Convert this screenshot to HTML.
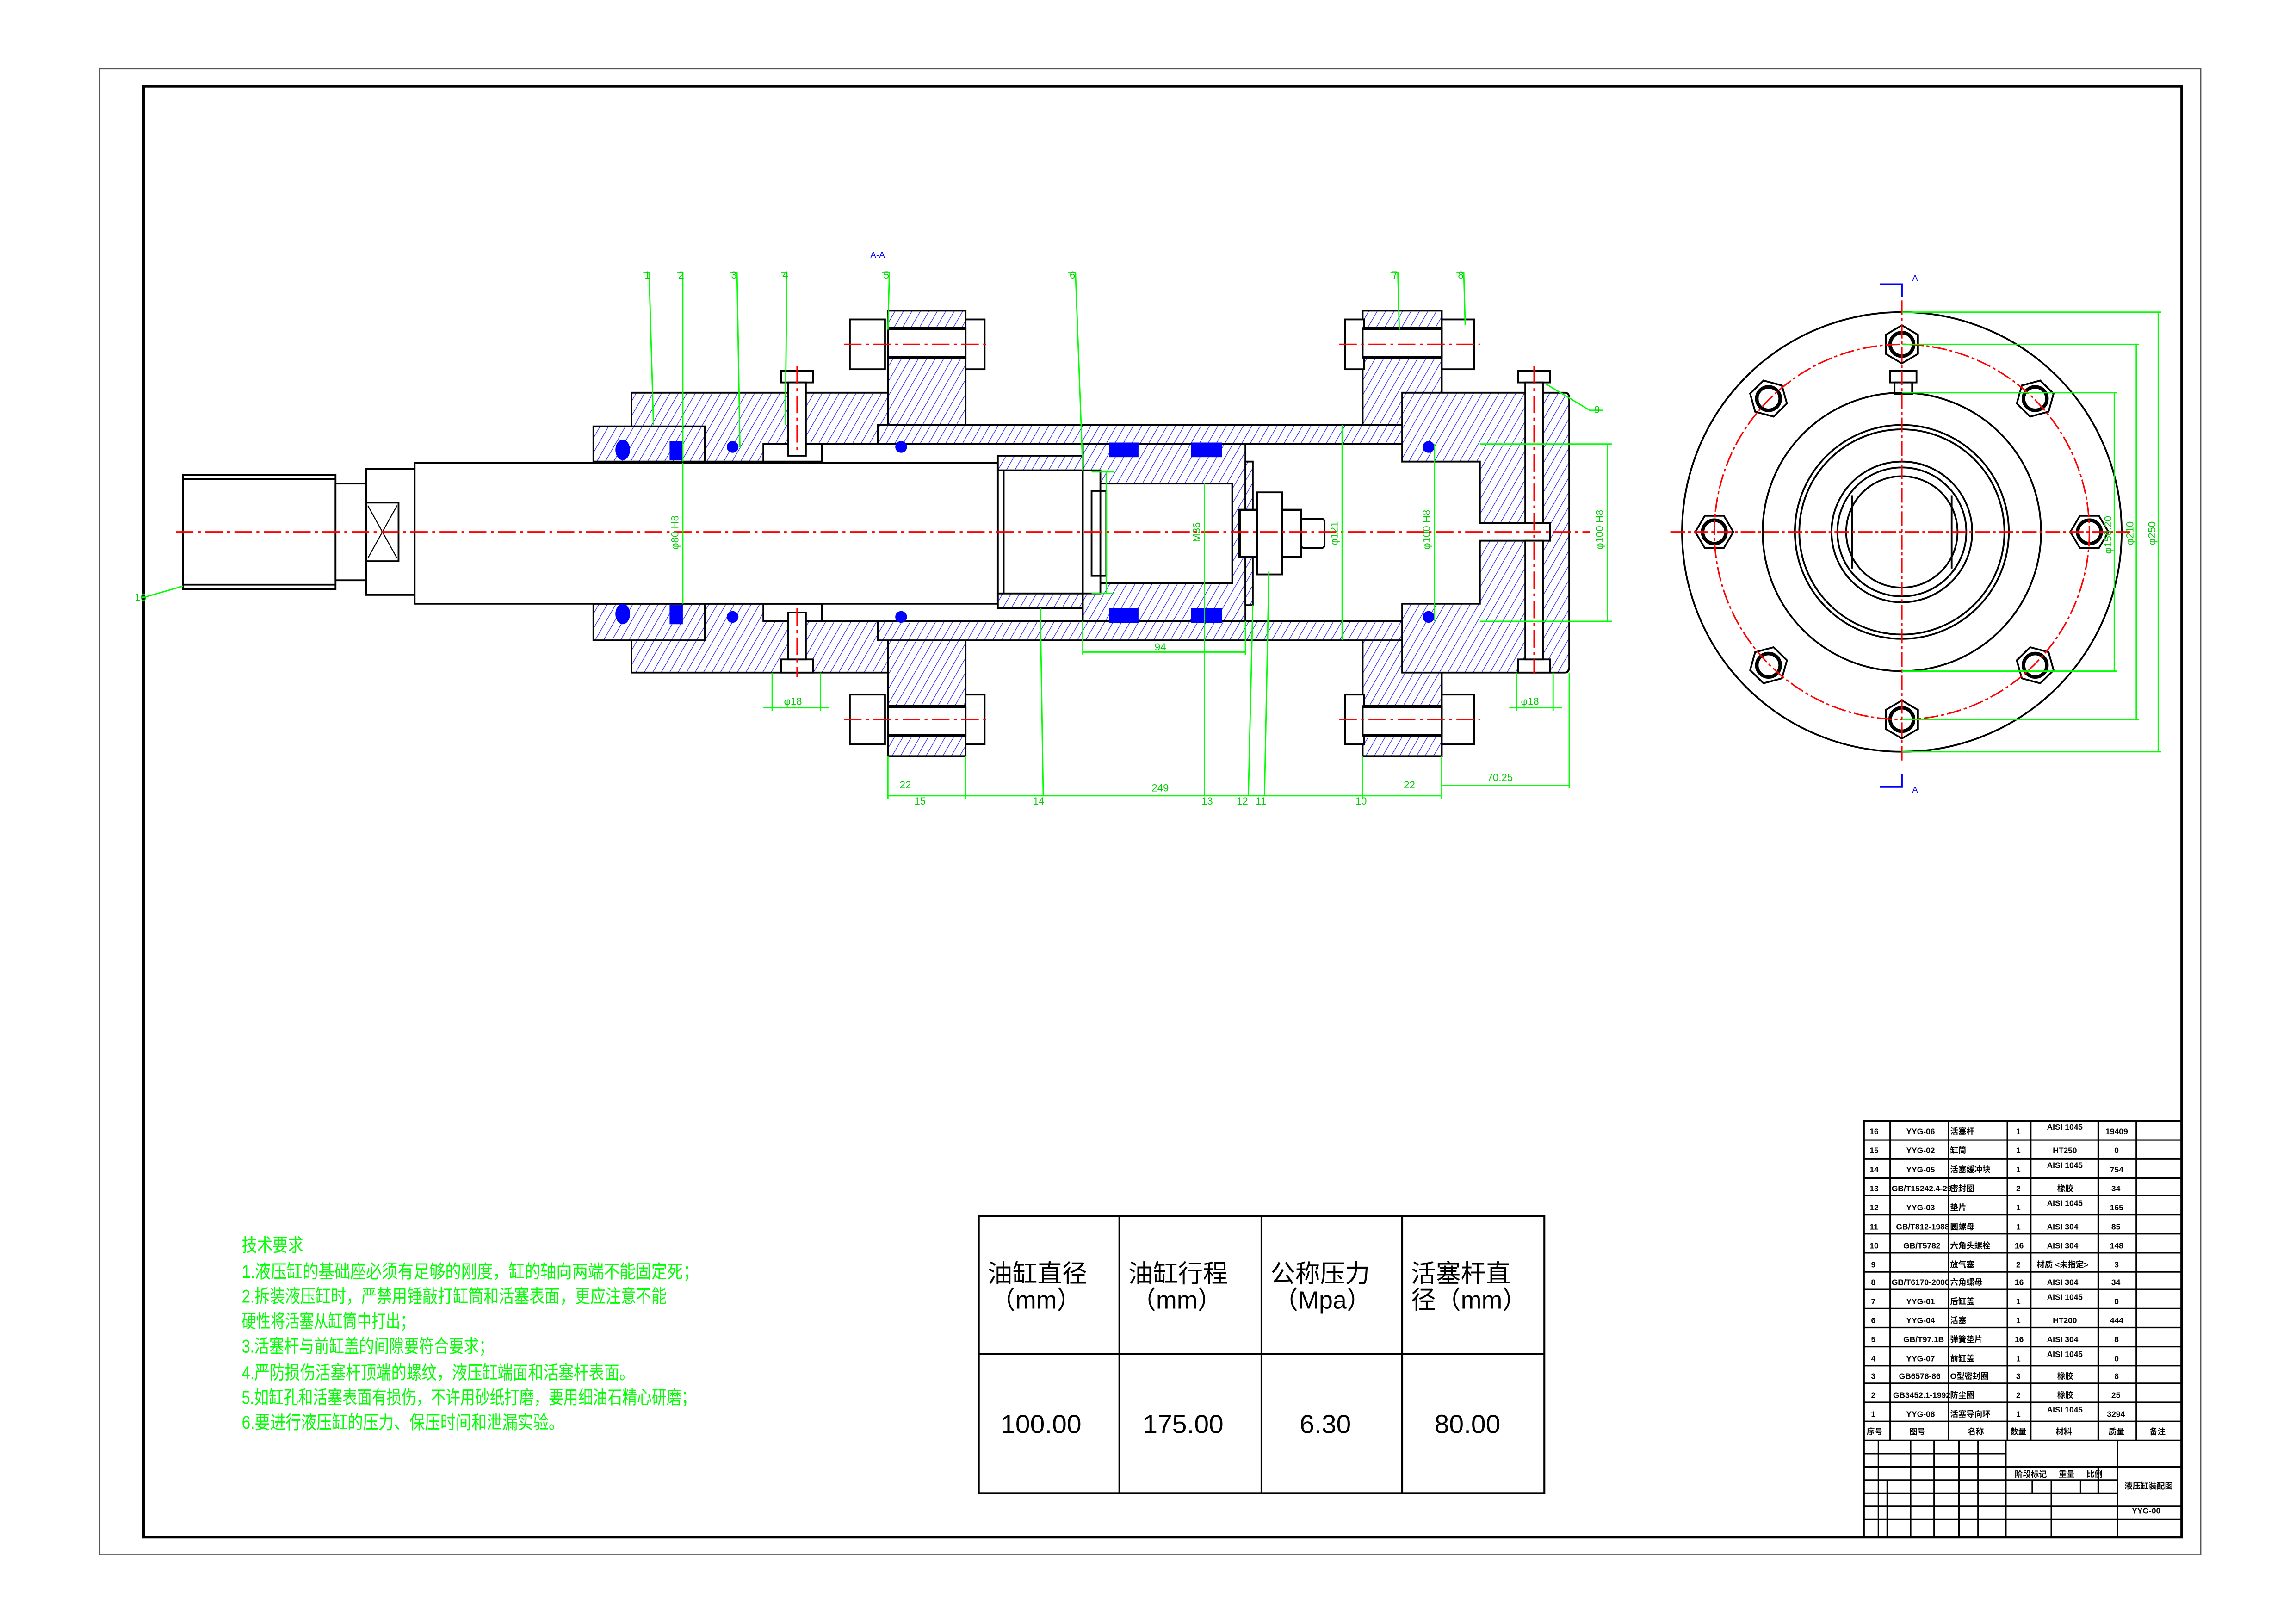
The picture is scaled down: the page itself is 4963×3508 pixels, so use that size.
<!DOCTYPE html>
<html><head><meta charset="utf-8"><style>html,body{margin:0;padding:0;background:#fff}svg{display:block}</style></head><body>
<svg xmlns="http://www.w3.org/2000/svg" width="4963" height="3508" viewBox="0 0 1567 1107.6" preserveAspectRatio="none" font-family="Liberation Sans, Noto Sans CJK SC, sans-serif">
<defs>
<pattern id="h" width="5" height="5" patternUnits="userSpaceOnUse" patternTransform="rotate(30)">
<rect width="5" height="5" fill="#fff"/><line x1="0" y1="0" x2="0" y2="5" stroke="#1a1aff" stroke-width="0.8"/></pattern>
</defs>
<rect width="1567" height="1108" fill="#fff"/>
<rect x="68" y="47" width="1434" height="1014" fill="none" stroke="#555" stroke-width="0.8"/>
<rect x="98" y="59" width="1391" height="990" fill="none" stroke="#000" stroke-width="1.8"/>

<g stroke="#000" stroke-width="1.2">
<rect x="125" y="324" width="104" height="78" fill="#fff"/>
<line x1="125" y1="327" x2="229" y2="327"/><line x1="125" y1="399" x2="229" y2="399"/>
<rect x="229" y="330" width="21" height="66" fill="#fff"/>
<rect x="250" y="320" width="33" height="86" fill="#fff"/>
<rect x="250" y="343" width="22" height="40" fill="none"/>
<path d="M251 345 L271 381 M271 345 L251 381" stroke-width="0.7"/>
<path d="M431 268 H606 V290 H599 V303 H522 V315 H431 Z" fill="url(#h)"/>
<path d="M431 459 H606 V437 H599 V424 H522 V412 H431 Z" fill="url(#h)"/>
<path d="M405 291 H481 V315 H405 Z" fill="url(#h)"/>
<path d="M405 412 H481 V437 H405 Z" fill="url(#h)"/>
<rect x="521" y="303" width="40" height="12" fill="#fff"/>
<rect x="521" y="412" width="40" height="12" fill="#fff"/>
<rect x="606" y="212" width="53" height="78" fill="url(#h)"/>
<rect x="606" y="437" width="53" height="79" fill="url(#h)"/>
<rect x="930" y="212" width="54" height="78" fill="url(#h)"/>
<rect x="930" y="437" width="54" height="79" fill="url(#h)"/>
<path d="M599 290 H991 V303 H599 Z" fill="url(#h)"/>
<path d="M599 424 H991 V437 H599 Z" fill="url(#h)"/>
<path d="M957 268 H1068 Q1071 268 1071 272 V455 Q1071 459 1068 459 H957 V412 H1010 V369 H1058 V357 H1010 V315 H957 Z" fill="url(#h)"/>
<rect x="283" y="316" width="398" height="96" fill="#fff"/>
<rect x="681" y="311" width="58" height="10" fill="url(#h)"/>
<rect x="681" y="405" width="58" height="10" fill="url(#h)"/>
<rect x="681" y="321" width="58" height="84" fill="#fff"/>
<line x1="685" y1="321" x2="685" y2="405"/>
<path d="M739 303 H850 V424 H739 Z" fill="url(#h)"/>
<rect x="751" y="330" width="90" height="68" fill="#fff"/>
<rect x="739" y="321" width="12" height="84" fill="#fff"/>
<rect x="745" y="335" width="10" height="58" fill="none"/>
<rect x="850" y="315" width="5" height="98" fill="url(#h)"/>
<rect x="846" y="348" width="42" height="32" fill="#fff" stroke-width="1.6"/>
<rect x="858" y="336" width="17" height="56" fill="#fff"/>
<rect x="888" y="354" width="16" height="20" fill="#fff" rx="2"/>
<g fill="#fff">
<rect x="580" y="218" width="24" height="34"/><rect x="659" y="218" width="13" height="34"/>
<rect x="580" y="474" width="24" height="34"/><rect x="659" y="474" width="13" height="34"/>
<rect x="918" y="218" width="13" height="34"/><rect x="984" y="218" width="22" height="34"/>
<rect x="918" y="474" width="13" height="34"/><rect x="984" y="474" width="22" height="34"/>
<rect x="606" y="224" width="53" height="20"/><rect x="606" y="482" width="53" height="20"/>
<rect x="930" y="224" width="54" height="20"/><rect x="930" y="482" width="54" height="20"/>
</g>
<g stroke-width="2.2">
<line x1="606" y1="224" x2="659" y2="224"/><line x1="606" y1="244" x2="659" y2="244"/>
<line x1="606" y1="482" x2="659" y2="482"/><line x1="606" y1="502" x2="659" y2="502"/>
<line x1="930" y1="224" x2="984" y2="224"/><line x1="930" y1="244" x2="984" y2="244"/>
<line x1="930" y1="482" x2="984" y2="482"/><line x1="930" y1="502" x2="984" y2="502"/>
</g>
<rect x="533" y="253" width="22" height="8" fill="#fff"/><rect x="538" y="261" width="12" height="50" fill="#fff"/>
<rect x="533" y="450" width="22" height="9" fill="#fff"/><rect x="538" y="418" width="12" height="32" fill="#fff"/>
<rect x="1036" y="253" width="22" height="8" fill="#fff"/><rect x="1041" y="261" width="12" height="96" fill="#fff"/>
<rect x="1036" y="450" width="22" height="9" fill="#fff"/><rect x="1041" y="369" width="12" height="81" fill="#fff"/>
</g>
<g fill="#0000ff">
<ellipse cx="425" cy="307" rx="5" ry="7"/><ellipse cx="425" cy="419" rx="5" ry="7"/>
<rect x="457" y="301" width="9" height="13"/><rect x="457" y="413" width="9" height="13"/>
<circle cx="500" cy="305" r="4"/><circle cx="500" cy="421" r="4"/>
<circle cx="615" cy="305" r="4"/><circle cx="615" cy="421" r="4"/>
<circle cx="975" cy="305" r="4"/><circle cx="975" cy="421" r="4"/>
<rect x="757" y="302" width="20" height="10"/><rect x="813" y="302" width="21" height="10"/>
<rect x="757" y="415" width="20" height="10"/><rect x="813" y="415" width="21" height="10"/>
</g>
<g stroke="#f00" stroke-width="1" stroke-dasharray="12,3,2,3" fill="none">
<line x1="120" y1="363" x2="1085" y2="363"/>
<line x1="576" y1="235" x2="676" y2="235"/><line x1="576" y1="491" x2="676" y2="491"/>
<line x1="914" y1="235" x2="1010" y2="235"/><line x1="914" y1="491" x2="1010" y2="491"/>
<line x1="544" y1="250" x2="544" y2="310"/><line x1="544" y1="415" x2="544" y2="462"/>
<line x1="1047" y1="250" x2="1047" y2="460"/>
</g>
<g stroke="#0f0" stroke-width="0.9" fill="none">
<polyline points="439,186 443,186 446,290"/><polyline points="462,186 466,186 466,315"/>
<polyline points="498,186 503,186 505,305"/><polyline points="533,186 537,186 536,290"/>
<polyline points="602,186 607,186 606,225"/><polyline points="729,186 734,186 739,321"/>
<polyline points="949,186 954,186 955,225"/><polyline points="994,186 999,186 1000,222"/>
<polyline points="1094,280 1085,280 1055,262"/>
<polyline points="97,408 125,400"/>
<line x1="606" y1="516" x2="606" y2="545"/><line x1="984" y1="516" x2="984" y2="545"/>
<line x1="606" y1="543" x2="984" y2="543"/>
<line x1="659" y1="516" x2="659" y2="545"/><line x1="930" y1="516" x2="930" y2="545"/>
<line x1="1071" y1="459" x2="1071" y2="538"/><line x1="984" y1="536" x2="1071" y2="536"/>
<line x1="739" y1="424" x2="739" y2="447"/><line x1="850" y1="424" x2="850" y2="447"/><line x1="739" y1="445" x2="850" y2="445"/>
<line x1="527" y1="459" x2="527" y2="485"/><line x1="560" y1="459" x2="560" y2="485"/><line x1="521" y1="483" x2="566" y2="483"/>
<line x1="1035" y1="459" x2="1035" y2="485"/><line x1="1060" y1="459" x2="1060" y2="485"/><line x1="1030" y1="483" x2="1066" y2="483"/>
<line x1="466" y1="316" x2="466" y2="412"/><line x1="916" y1="290" x2="916" y2="437"/>
<line x1="979" y1="303" x2="979" y2="424"/><line x1="822" y1="330" x2="822" y2="543"/>
<line x1="1010" y1="303" x2="1100" y2="303"/><line x1="1010" y1="424" x2="1100" y2="424"/><line x1="1097" y1="303" x2="1097" y2="424"/>
<line x1="710" y1="415" x2="712" y2="543"/><line x1="855" y1="413" x2="852" y2="543"/><line x1="866" y1="390" x2="863" y2="543"/>
<line x1="745" y1="322" x2="760" y2="322"/><line x1="745" y1="405" x2="760" y2="405"/><line x1="755" y1="322" x2="755" y2="405"/>
</g>
<g fill="#0c0" font-size="7">
<text x="440" y="190">1</text><text x="463" y="190">2</text><text x="499" y="190">3</text><text x="534" y="190">4</text>
<text x="603" y="190">5</text><text x="730" y="190">6</text><text x="950" y="190">7</text><text x="995" y="190">8</text>
<text x="1088" y="282">9</text><text x="92" y="410">16</text>
<text x="614" y="538">22</text><text x="786" y="540">249</text><text x="958" y="538">22</text><text x="1015" y="533">70.25</text>
<text x="624" y="549">15</text><text x="705" y="549">14</text><text x="820" y="549">13</text><text x="844" y="549">12</text><text x="857" y="549">11</text><text x="925" y="549">10</text>
<text x="788" y="444">94</text><text x="535" y="481">φ18</text><text x="1038" y="481">φ18</text>
<text transform="translate(463,375) rotate(-90)">φ80 H8</text>
<text transform="translate(913,372) rotate(-90)">φ121</text>
<text transform="translate(976,375) rotate(-90)">φ100 H8</text>
<text transform="translate(1094,375) rotate(-90)">φ100 H8</text>
<text transform="translate(819,370) rotate(-90)">M36</text>
</g>
<text x="594" y="176" fill="#00f" font-size="6">A-A</text>

<g fill="none" stroke="#000" stroke-width="1.2">
<circle cx="1298" cy="363" r="150"/>
<circle cx="1298" cy="363" r="95"/>
<circle cx="1298" cy="363" r="73"/><circle cx="1298" cy="363" r="70"/>
<circle cx="1298" cy="363" r="48"/><circle cx="1298" cy="363" r="44"/><circle cx="1298" cy="363" r="38"/>
<line x1="1264" y1="338" x2="1264" y2="388"/><line x1="1332" y1="338" x2="1332" y2="388"/>
<rect x="1290" y="253" width="18" height="8"/><rect x="1293" y="261" width="12" height="8"/>
</g>
<g stroke="#000" stroke-width="1.2" fill="#fff">
<g transform="translate(1298,235)"><polygon points="13,0 6.5,11 -6.5,11 -13,0 -6.5,-11 6.5,-11" transform="rotate(90)"/><circle r="8" stroke-width="2.4"/></g>
<g transform="translate(1298,491)"><polygon points="13,0 6.5,11 -6.5,11 -13,0 -6.5,-11 6.5,-11" transform="rotate(90)"/><circle r="8" stroke-width="2.4"/></g>
<g transform="translate(1170,363)"><polygon points="13,0 6.5,11 -6.5,11 -13,0 -6.5,-11 6.5,-11"/><circle r="8" stroke-width="2.4"/></g>
<g transform="translate(1426,363)"><polygon points="13,0 6.5,11 -6.5,11 -13,0 -6.5,-11 6.5,-11"/><circle r="8" stroke-width="2.4"/></g>
<g transform="translate(1207,272)"><polygon points="13,0 6.5,11 -6.5,11 -13,0 -6.5,-11 6.5,-11" transform="rotate(15)"/><circle r="8" stroke-width="2.4"/></g>
<g transform="translate(1389,272)"><polygon points="13,0 6.5,11 -6.5,11 -13,0 -6.5,-11 6.5,-11" transform="rotate(-15)"/><circle r="8" stroke-width="2.4"/></g>
<g transform="translate(1207,454)"><polygon points="13,0 6.5,11 -6.5,11 -13,0 -6.5,-11 6.5,-11" transform="rotate(-15)"/><circle r="8" stroke-width="2.4"/></g>
<g transform="translate(1389,454)"><polygon points="13,0 6.5,11 -6.5,11 -13,0 -6.5,-11 6.5,-11" transform="rotate(15)"/><circle r="8" stroke-width="2.4"/></g>
</g>
<g stroke="#f00" stroke-width="1" fill="none" stroke-dasharray="10,2,2,2">
<circle cx="1298" cy="363" r="128"/>
<line x1="1140" y1="363" x2="1455" y2="363"/><line x1="1298" y1="205" x2="1298" y2="520"/>
</g>
<g stroke="#0f0" stroke-width="0.9" fill="none">
<line x1="1298" y1="213" x2="1475" y2="213"/><line x1="1298" y1="513" x2="1475" y2="513"/><line x1="1473" y1="213" x2="1473" y2="513"/>
<line x1="1298" y1="235" x2="1460" y2="235"/><line x1="1298" y1="491" x2="1460" y2="491"/><line x1="1458" y1="235" x2="1458" y2="491"/>
<line x1="1298" y1="268" x2="1445" y2="268"/><line x1="1298" y1="458" x2="1445" y2="458"/><line x1="1443" y1="268" x2="1443" y2="458"/>
</g>
<g fill="#0c0" font-size="7">
<text transform="translate(1441,378) rotate(-90)">φ156.20</text>
<text transform="translate(1456,372) rotate(-90)">φ210</text>
<text transform="translate(1471,372) rotate(-90)">φ250</text>
</g>
<g stroke="#00f" stroke-width="1.2" fill="none">
<polyline points="1283,194 1298,194 1298,203"/><polyline points="1283,537 1298,537 1298,528"/>
</g>
<text x="1305" y="192" fill="#00f" font-size="6">A</text><text x="1305" y="541" fill="#00f" font-size="6">A</text>

<g fill="#0f0" font-size="12.5" font-family="Liberation Sans, Noto Sans CJK SC, sans-serif">
<text x="165" y="854" textLength="42" lengthAdjust="spacingAndGlyphs">技术要求</text>
<text x="165" y="872" textLength="312" lengthAdjust="spacingAndGlyphs">1.液压缸的基础座必须有足够的刚度，缸的轴向两端不能固定死；</text>
<text x="165" y="889" textLength="290" lengthAdjust="spacingAndGlyphs">2.拆装液压缸时，严禁用锤敲打缸筒和活塞表面，更应注意不能</text>
<text x="165" y="906" textLength="118" lengthAdjust="spacingAndGlyphs">硬性将活塞从缸筒中打出；</text>
<text x="165" y="923" textLength="172" lengthAdjust="spacingAndGlyphs">3.活塞杆与前缸盖的间隙要符合要求；</text>
<text x="165" y="941" textLength="268" lengthAdjust="spacingAndGlyphs">4.严防损伤活塞杆顶端的螺纹，液压缸端面和活塞杆表面。</text>
<text x="165" y="958" textLength="310" lengthAdjust="spacingAndGlyphs">5.如缸孔和活塞表面有损伤，不许用砂纸打磨，要用细油石精心研磨；</text>
<text x="165" y="975" textLength="220" lengthAdjust="spacingAndGlyphs">6.要进行液压缸的压力、保压时间和泄漏实验。</text>
</g>

<g stroke="#000" stroke-width="1.3" fill="none">
<rect x="668" y="830" width="386" height="189"/>
<line x1="764" y1="830" x2="764" y2="1019"/><line x1="861" y1="830" x2="861" y2="1019"/><line x1="957" y1="830" x2="957" y2="1019"/>
<line x1="668" y1="924" x2="1054" y2="924"/>
</g>
<g fill="#000" font-size="17">
<text x="674" y="875">油缸直径</text><text x="676" y="893">（mm）</text>
<text x="770" y="875">油缸行程</text><text x="772" y="893">（mm）</text>
<text x="867" y="875">公称压力</text><text x="869" y="893">（Mpa）</text>
<text x="963" y="875">活塞杆直</text><text x="963" y="893">径（mm）</text>
<g font-size="18"><text x="683" y="978">100.00</text><text x="780" y="978">175.00</text><text x="887" y="978">6.30</text><text x="979" y="978">80.00</text></g>
</g>

<g stroke="#000" stroke-width="1" fill="none">
<rect x="1272" y="765" width="217" height="284" stroke-width="1.4"/>
<path d="M1272 778H1489M1272 791H1489M1272 804H1489M1272 816H1489M1272 829H1489M1272 842H1489M1272 855H1489M1272 868H1489M1272 880H1489M1272 893H1489M1272 906H1489M1272 919H1489M1272 932H1489M1272 944H1489M1272 957H1489M1272 970H1489M1272 983H1489"/>
<path d="M1290 765V983M1330 765V983M1370 765V983M1386 765V983M1432 765V983M1458 765V983"/>
<path d="M1272 992H1369M1272 1001H1369M1272 1010H1369M1272 1019H1369M1272 1028H1369M1272 1037H1369"/>
<path d="M1282 983V1049M1288 1010V1049M1304 983V1049M1320 983V1049M1337 983V1049M1350 983V1049M1369 983V1049"/>
<path d="M1369 1001H1489M1369 1010H1445M1369 1019H1445M1369 1028H1489M1369 1037H1489M1445 983V1049M1400 1010V1049M1420 1010V1019M1432 1001V1019M1387 1010V1019"/>
</g>
<g fill="#000" font-size="5.5" font-weight="bold">
<text x="1276" y="774">16</text><text x="1301" y="774">YYG-06</text><text x="1331" y="774">活塞杆</text><text x="1376" y="774">1</text><text x="1397" y="771">AISI 1045</text><text x="1437" y="774">19409</text>
<text x="1276" y="787">15</text><text x="1301" y="787">YYG-02</text><text x="1331" y="787">缸筒</text><text x="1376" y="787">1</text><text x="1401" y="787">HT250</text><text x="1443" y="787">0</text>
<text x="1276" y="800">14</text><text x="1301" y="800">YYG-05</text><text x="1331" y="800">活塞缓冲块</text><text x="1376" y="800">1</text><text x="1397" y="797">AISI 1045</text><text x="1440" y="800">754</text>
<text x="1276" y="813">13</text><text x="1291" y="813">GB/T15242.4-29</text><text x="1331" y="813">密封圈</text><text x="1376" y="813">2</text><text x="1404" y="813">橡胶</text><text x="1441" y="813">34</text>
<text x="1276" y="826">12</text><text x="1301" y="826">YYG-03</text><text x="1331" y="826">垫片</text><text x="1376" y="826">1</text><text x="1397" y="823">AISI 1045</text><text x="1440" y="826">165</text>
<text x="1276" y="839">11</text><text x="1294" y="839">GB/T812-1988</text><text x="1331" y="839">圆螺母</text><text x="1376" y="839">1</text><text x="1397" y="839">AISI 304</text><text x="1441" y="839">85</text>
<text x="1276" y="852">10</text><text x="1299" y="852">GB/T5782</text><text x="1331" y="852">六角头螺栓</text><text x="1375" y="852">16</text><text x="1397" y="852">AISI 304</text><text x="1440" y="852">148</text>
<text x="1277" y="865">9</text><text x="1331" y="865">放气塞</text><text x="1376" y="865">2</text><text x="1390" y="865">材质 &lt;未指定&gt;</text><text x="1443" y="865">3</text>
<text x="1277" y="877">8</text><text x="1291" y="877">GB/T6170-2000</text><text x="1331" y="877">六角螺母</text><text x="1375" y="877">16</text><text x="1397" y="877">AISI 304</text><text x="1441" y="877">34</text>
<text x="1277" y="890">7</text><text x="1301" y="890">YYG-01</text><text x="1331" y="890">后缸盖</text><text x="1376" y="890">1</text><text x="1397" y="887">AISI 1045</text><text x="1443" y="890">0</text>
<text x="1277" y="903">6</text><text x="1301" y="903">YYG-04</text><text x="1331" y="903">活塞</text><text x="1376" y="903">1</text><text x="1401" y="903">HT200</text><text x="1440" y="903">444</text>
<text x="1277" y="916">5</text><text x="1299" y="916">GB/T97.1B</text><text x="1331" y="916">弹簧垫片</text><text x="1375" y="916">16</text><text x="1397" y="916">AISI 304</text><text x="1443" y="916">8</text>
<text x="1277" y="929">4</text><text x="1301" y="929">YYG-07</text><text x="1331" y="929">前缸盖</text><text x="1376" y="929">1</text><text x="1397" y="926">AISI 1045</text><text x="1443" y="929">0</text>
<text x="1277" y="941">3</text><text x="1296" y="941">GB6578-86</text><text x="1331" y="941">O型密封圈</text><text x="1376" y="941">3</text><text x="1404" y="941">橡胶</text><text x="1443" y="941">8</text>
<text x="1277" y="954">2</text><text x="1292" y="954">GB3452.1-1992</text><text x="1331" y="954">防尘圈</text><text x="1376" y="954">2</text><text x="1404" y="954">橡胶</text><text x="1441" y="954">25</text>
<text x="1277" y="967">1</text><text x="1301" y="967">YYG-08</text><text x="1331" y="967">活塞导向环</text><text x="1376" y="967">1</text><text x="1397" y="964">AISI 1045</text><text x="1438" y="967">3294</text>
<text x="1274" y="979">序号</text><text x="1303" y="979">图号</text><text x="1343" y="979">名称</text><text x="1372" y="979">数量</text><text x="1403" y="979">材料</text><text x="1439" y="979">质量</text><text x="1467" y="979">备注</text>
<text x="1375" y="1008">阶段标记</text><text x="1405" y="1008">重量</text><text x="1424" y="1008">比例</text>
<text x="1450" y="1016">液压缸装配图</text><text x="1455" y="1033">YYG-00</text>
</g>
</svg>
</body></html>
